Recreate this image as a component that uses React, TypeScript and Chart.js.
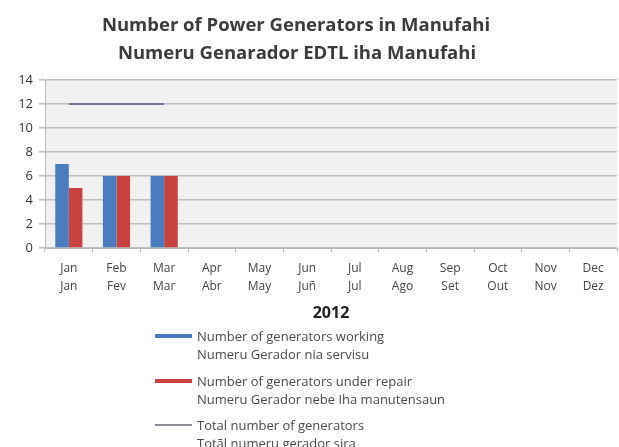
import React, { useEffect, useRef } from 'react';
import { Chart, registerables } from 'chart.js';
Chart.register(...registerables);

const monthLabels: string[][] = [
  ['Jan', 'Jan'], ['Feb', 'Fev'], ['Mar', 'Mar'], ['Apr', 'Abr'],
  ['May', 'May'], ['Jun', 'Juñ'], ['Jul', 'Jul'], ['Aug', 'Ago'],
  ['Sep', 'Set'], ['Oct', 'Out'], ['Nov', 'Nov'], ['Dec', 'Dez'],
];
const working: (number | null)[] = [7, 6, 6, null, null, null, null, null, null, null, null, null];
const underRepair: (number | null)[] = [5, 6, 6, null, null, null, null, null, null, null, null, null];
const totalGenerators: (number | null)[] = [12, 12, 12, null, null, null, null, null, null, null, null, null];
const titleLines = ['Number of Power Generators in Manufahi', 'Numeru Genarador EDTL iha Manufahi'];
const xTitle = '2012';
const legendItems = [
  { lines: ['Number of generators working', 'Numeru Gerador nia servisu'], color: '#4a7dc0', kind: 'bar' },
  { lines: ['Number of generators under repair', 'Numeru Gerador nebe Iha manutensaun'], color: '#c8423f', kind: 'bar' },
  { lines: ['Total number of generators', 'Totãl numeru gerador sira'], color: '#8a8e9c', kind: 'line' },
];
const yMin = 0;
const yMax = 14;
const yStep = 2;

const FONT = "'Open Sans', 'DejaVu Sans', sans-serif";

const bgPlugin = {
  id: 'plotBg',
  beforeDraw(chart: any) {
    const { ctx, chartArea } = chart;
    ctx.save();
    ctx.fillStyle = '#f1f1f1';
    ctx.fillRect(chartArea.left, chartArea.top, chartArea.right - chartArea.left, chartArea.bottom - chartArea.top);
    ctx.restore();
  },
};

const titlePlugin = {
  id: 'twoLineTitle',
  afterDraw(chart: any) {
    const { ctx } = chart;
    ctx.save();
    ctx.fillStyle = '#3c3c3c';
    ctx.font = `bold 18.5px ${FONT}`;
    ctx.textAlign = 'center';
    ctx.textBaseline = 'alphabetic';
    ctx.fillText(titleLines[0], 296, 31);
    ctx.fillText(titleLines[1], 297, 58.5);
    ctx.restore();
  },
};

export default function App() {
  const ref = useRef<HTMLCanvasElement | null>(null);
  useEffect(() => {
    if (!ref.current) return;
    const chart = new Chart(ref.current, {
      type: 'bar',
      data: {
        labels: monthLabels,
        datasets: [
          { type: 'bar', label: legendItems[0].lines.join(' '), data: working, backgroundColor: legendItems[0].color, order: 2 },
          { type: 'bar', label: legendItems[1].lines.join(' '), data: underRepair, backgroundColor: legendItems[1].color, order: 2 },
          {
            type: 'line', label: legendItems[2].lines.join(' '), data: totalGenerators,
            borderColor: '#6f7892', borderWidth: 2, pointRadius: 0, order: 1, spanGaps: false,
          } as any,
        ],
      },
      options: {
        responsive: false,
        animation: false,
        layout: { padding: { left: 0, right: 2, top: 80, bottom: 0 } },
        datasets: { bar: { categoryPercentage: 0.57, barPercentage: 1.0 } } as any,
        plugins: {
          legend: { display: false },
          tooltip: { enabled: false },
          title: { display: false },
        },
        scales: {
          x: {
            grid: { drawOnChartArea: false, drawTicks: true, tickLength: 4, color: '#b8b8b8', offset: true },
            border: { color: '#b8b8b8' },
            ticks: { color: '#444', font: { family: FONT, size: 12, lineHeight: 1.5 }, padding: 8, maxRotation: 0, autoSkip: false },
            title: { display: true, text: xTitle, color: '#222', font: { family: FONT, size: 16, weight: 'bold', lineHeight: 1.2 }, padding: { top: 0, bottom: 5 } },
            afterFit: (s: any) => { s.height = 80; },
          },
          y: {
            min: yMin,
            max: yMax,
            ticks: { stepSize: yStep, color: '#333', font: { family: FONT, size: 13 }, padding: 6 },
            grid: { color: '#c0c0c0', lineWidth: 1.6, tickLength: 6 },
            border: { color: '#b8b8b8' },
            afterFit: (s: any) => { s.width = 45; },
          },
        },
      },
      plugins: [bgPlugin, titlePlugin],
    });
    return () => chart.destroy();
  }, []);

  return (
    <div style={{ position: 'fixed', left: 0, top: 0, width: 619, height: 447, background: '#fff', overflow: 'hidden' }}>
      <canvas ref={ref} width={619} height={328} style={{ display: 'block' }} />
      {legendItems.map((item, i) => (
        <div key={i} style={{ position: 'absolute', left: 155, top: 327 + i * 44.5, height: 40 }}>
          <div style={{
            position: 'absolute', left: 0, top: item.kind === 'bar' ? 7 : 8,
            width: 37, height: item.kind === 'bar' ? 4 : 2, background: item.color,
          }} />
          <div style={{
            position: 'absolute', left: 42, top: 0, whiteSpace: 'nowrap',
            fontFamily: FONT, fontSize: 13, lineHeight: '18px', color: '#4a4a4a',
          }}>
            {item.lines.map((l, j) => <div key={j}>{l}</div>)}
          </div>
        </div>
      ))}
    </div>
  );
}
